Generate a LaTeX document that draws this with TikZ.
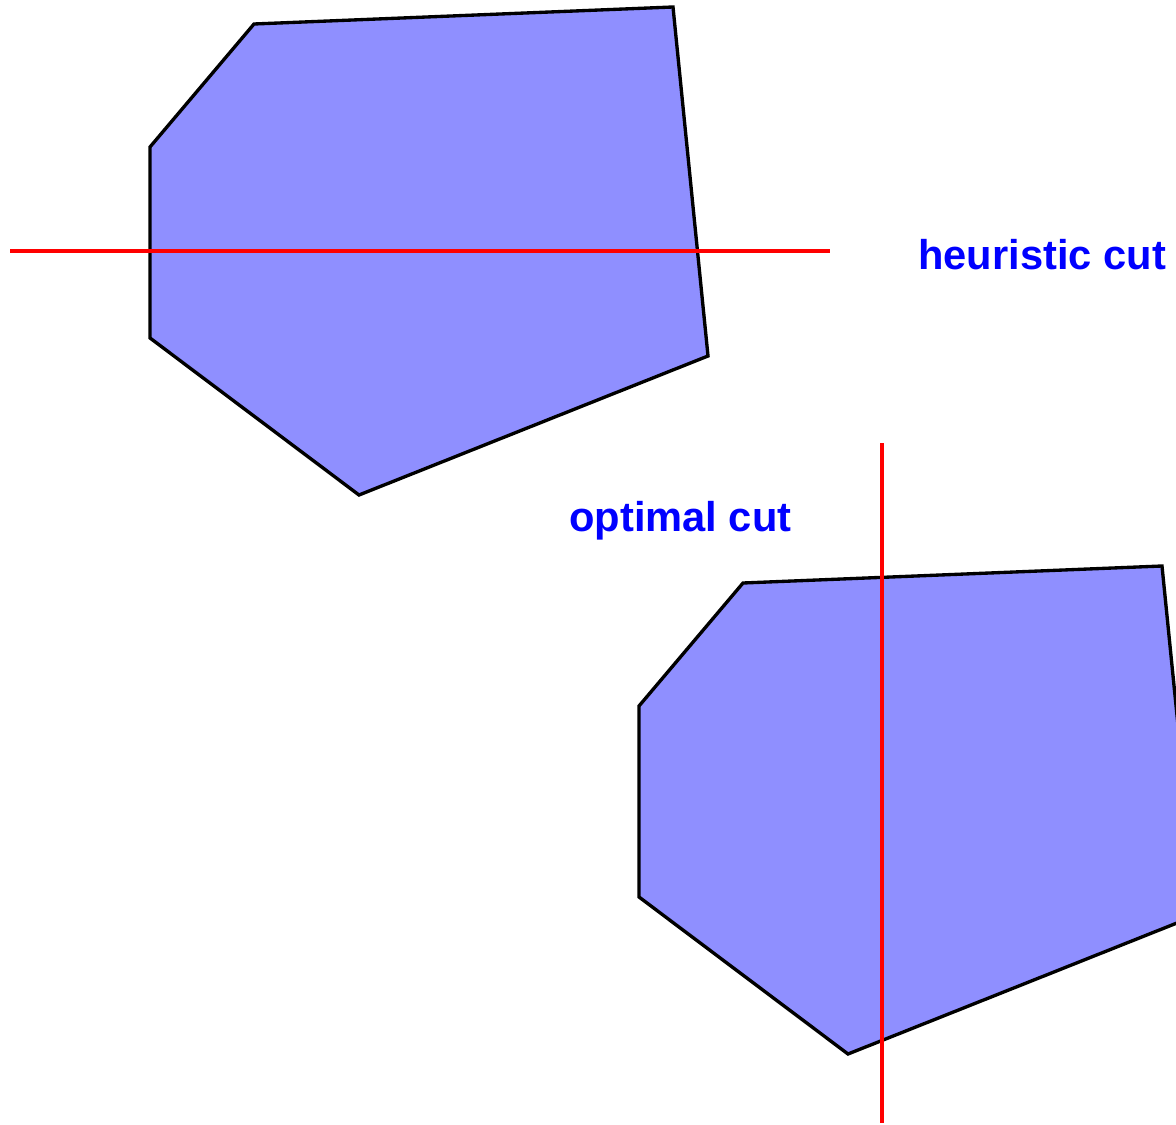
\documentclass[tikz,border=0pt]{standalone}
\usepackage{fontspec}
\setsansfont{Liberation Sans}
\usepackage{tikz}
\usetikzlibrary{positioning}
\definecolor{cutred}{RGB}{255,0,0}
\definecolor{cutblue}{RGB}{0,0,255}
\definecolor{polyfill}{RGB}{143,143,255}

\begin{document}
\begin{tikzpicture}[
  x=0.02cm, y=-0.02cm,
  poly/.style={draw=black, line width=1.9pt, fill=polyfill, line join=miter},
  cut/.style={draw=cutred, line width=1.8pt},
  lbl/.style={text=cutblue, font=\fontsize{23.7}{28}\selectfont\sffamily\bfseries,
              inner sep=0pt, anchor=base west}
]

% ---- frame ----
\clip (0,0) rectangle (1176,1125);

% ---- the two polygons (same shape, shifted) ----
\foreach \dx/\dy in {0/0, 489/559} {
  \draw[poly, shift={(\dx,\dy)}]
    (254,24) -- (673,7) -- (708,356) -- (359,495) -- (150,338) -- (150,147) -- cycle;
}

% ---- cuts ----
\coordinate (hcutL) at (10,251);
\coordinate (hcutR) at (830,251);
\coordinate (ocutT) at (882,443);
\coordinate (ocutB) at (882,1123);
\draw[cut] (hcutL) -- (hcutR);
\draw[cut] (ocutT) -- (ocutB);

% ---- labels ----
\node[lbl] (heurlbl) at (918,270) {heuristic cut};
\node[lbl] (optlbl) at (569,531) {optimal cut};

\end{tikzpicture}
\end{document}
